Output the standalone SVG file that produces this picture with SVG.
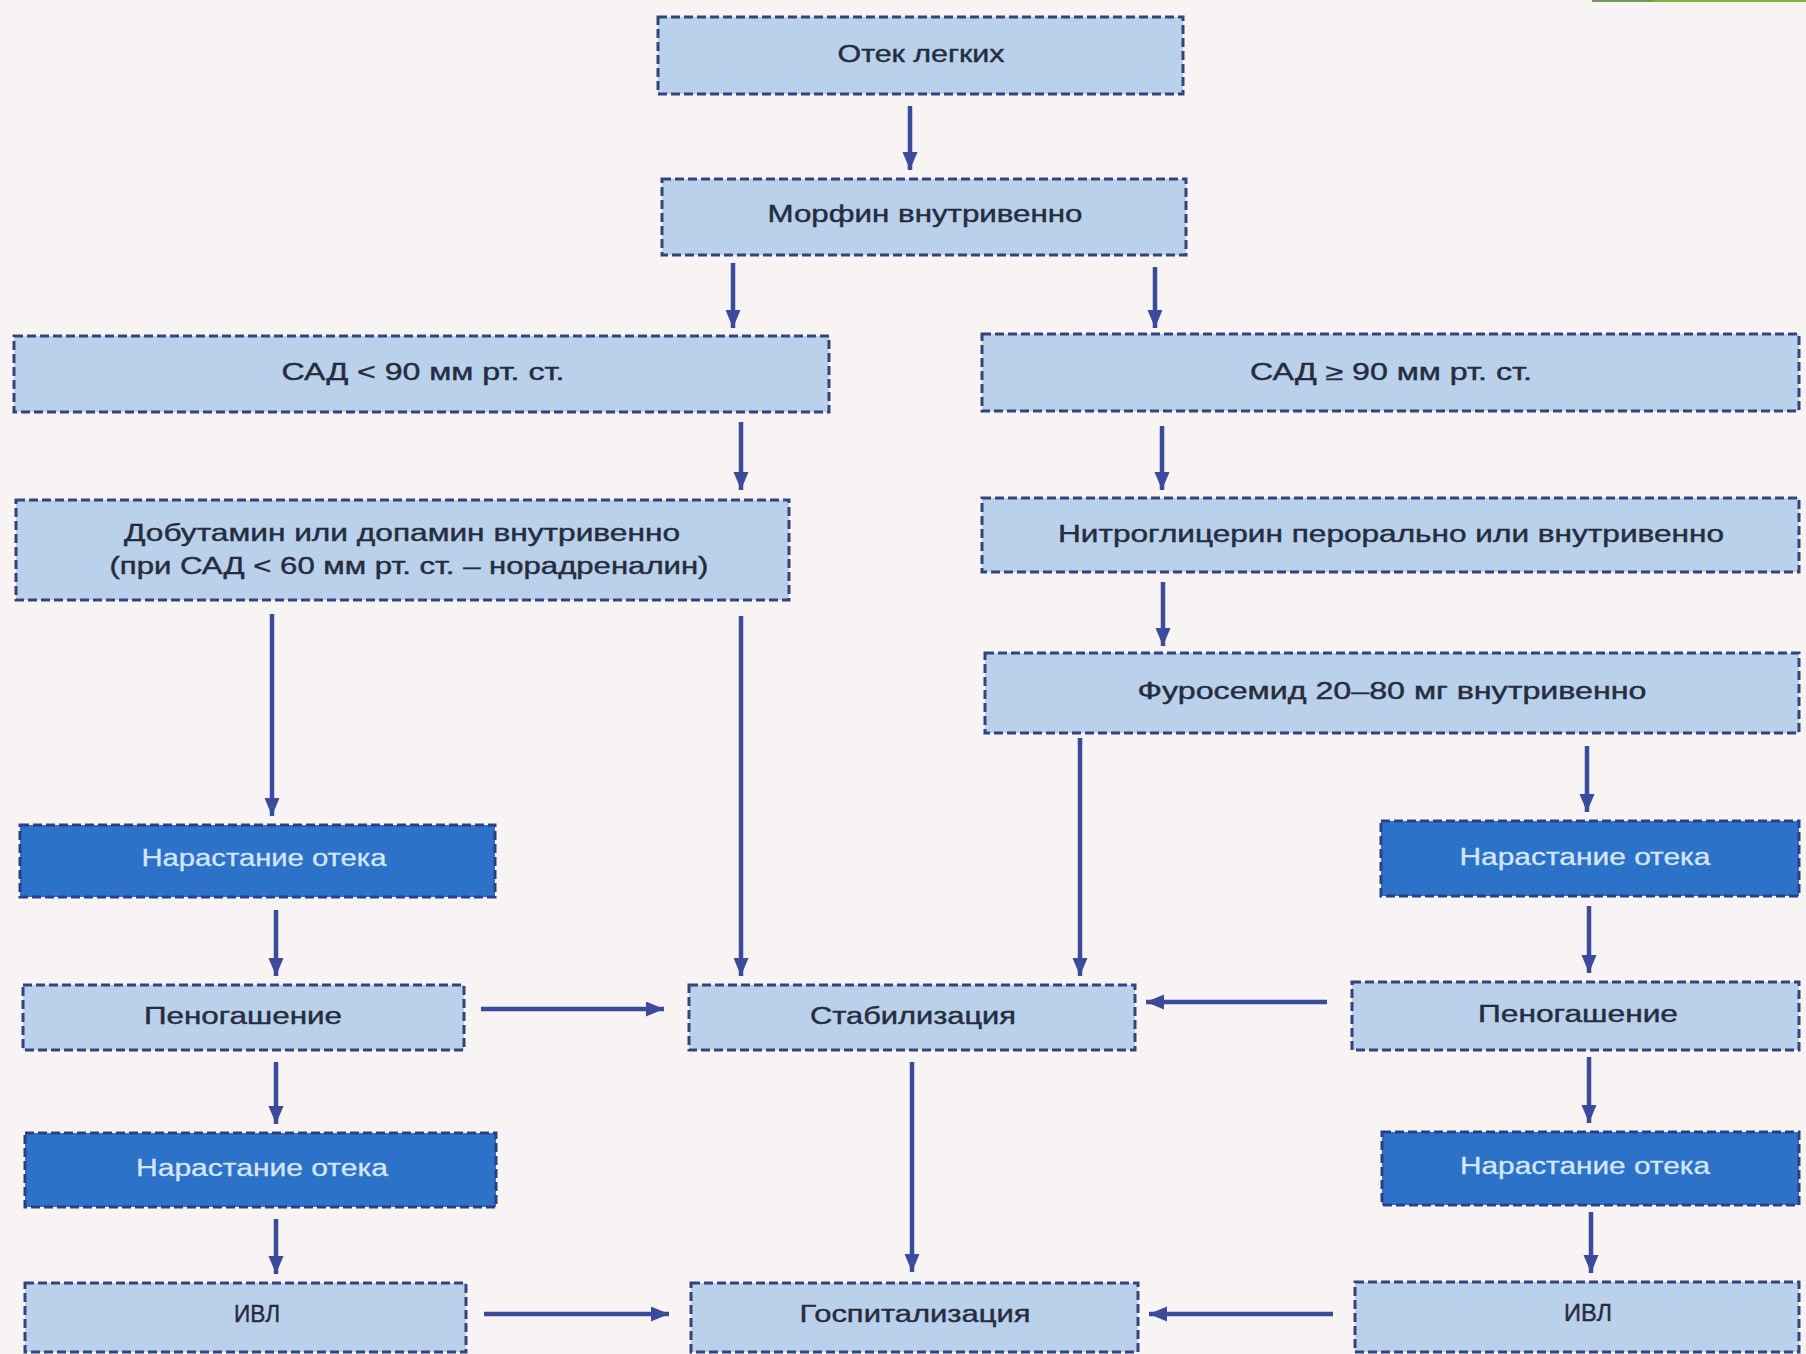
<svg xmlns="http://www.w3.org/2000/svg" width="1806" height="1354" viewBox="0 0 1806 1354">
  <defs>
    <marker id="ah" markerUnits="userSpaceOnUse" markerWidth="20" markerHeight="16" refX="18" refY="7.5" orient="auto">
      <path d="M0,0 L18,7.5 L0,15 z" fill="#3c4a9c"/>
    </marker>
    <style>
      .lt { fill: #b9d1eb; stroke: #34427e; stroke-width: 3; stroke-dasharray: 9 4; }
      .dk { fill: #2b72c8; stroke: #2c3f86; stroke-width: 3; stroke-dasharray: 9 4; }
      .t { font-family: "Liberation Sans", Arial, sans-serif; font-size: 23px; fill: #262c3e; stroke: #262c3e; stroke-width: 0.4; text-anchor: middle; }
      .tw { font-family: "Liberation Sans", Arial, sans-serif; font-size: 23px; fill: #d4e6f8; stroke: #d4e6f8; stroke-width: 0.3; text-anchor: middle; }
      .c { stroke: #3c4a9c; stroke-width: 4.5; fill: none; marker-end: url(#ah); }
    </style>
  </defs>
  <rect x="0" y="0" width="1806" height="1354" fill="#f7f4f3"/>
  <rect x="1592" y="0" width="61" height="2" fill="#739a5a"/>
  <rect x="1653" y="0" width="153" height="2" fill="#84b236"/>

  <g id="connectors">
    <line class="c" x1="910" y1="106" x2="910" y2="170"/>
    <line class="c" x1="733" y1="263" x2="733" y2="328"/>
    <line class="c" x1="1155" y1="267" x2="1155" y2="328"/>
    <line class="c" x1="741" y1="422" x2="741" y2="490"/>
    <line class="c" x1="1162" y1="426" x2="1162" y2="490"/>
    <line class="c" x1="1163" y1="582" x2="1163" y2="646"/>
    <line class="c" x1="272" y1="614" x2="272" y2="816"/>
    <line class="c" x1="741" y1="616" x2="741" y2="976"/>
    <line class="c" x1="1080" y1="738" x2="1080" y2="976"/>
    <line class="c" x1="1587" y1="746" x2="1587" y2="812"/>
    <line class="c" x1="276" y1="910" x2="276" y2="976"/>
    <line class="c" x1="481" y1="1009" x2="664" y2="1009"/>
    <line class="c" x1="1327" y1="1002" x2="1146" y2="1002"/>
    <line class="c" x1="276" y1="1062" x2="276" y2="1124"/>
    <line class="c" x1="276" y1="1219" x2="276" y2="1274"/>
    <line class="c" x1="484" y1="1314" x2="669" y2="1314"/>
    <line class="c" x1="912" y1="1062" x2="912" y2="1272"/>
    <line class="c" x1="1333" y1="1314" x2="1149" y2="1314"/>
    <line class="c" x1="1589" y1="906" x2="1589" y2="973"/>
    <line class="c" x1="1589" y1="1057" x2="1589" y2="1123"/>
    <line class="c" x1="1591" y1="1212" x2="1591" y2="1273"/>
  </g>

  <g id="n1"><rect class="lt" x="658" y="17" width="525" height="77"/><text class="t" x="921" y="62" textLength="167" lengthAdjust="spacingAndGlyphs">Отек легких</text></g>
  <g id="n2"><rect class="lt" x="662" y="179" width="524" height="76"/><text class="t" x="925" y="222" textLength="315" lengthAdjust="spacingAndGlyphs">Морфин внутривенно</text></g>
  <g id="n3"><rect class="lt" x="14" y="336" width="815" height="76"/><text class="t" x="423" y="380" textLength="283" lengthAdjust="spacingAndGlyphs">САД &lt; 90  мм рт. ст.</text></g>
  <g id="n4"><rect class="lt" x="982" y="334" width="817" height="77"/><text class="t" x="1391" y="380" textLength="282" lengthAdjust="spacingAndGlyphs">САД ≥ 90  мм рт. ст.</text></g>
  <g id="n5"><rect class="lt" x="16" y="500" width="773" height="100"/>
    <text class="t" x="402" y="541" textLength="556" lengthAdjust="spacingAndGlyphs">Добутамин или допамин внутривенно</text>
    <text class="t" x="409" y="574" textLength="599" lengthAdjust="spacingAndGlyphs">(при САД &lt; 60  мм рт. ст. – норадреналин)</text></g>
  <g id="n6"><rect class="lt" x="982" y="498" width="817" height="74"/><text class="t" x="1391" y="542" textLength="666" lengthAdjust="spacingAndGlyphs">Нитроглицерин перорально или внутривенно</text></g>
  <g id="n7"><rect class="lt" x="985" y="653" width="814" height="80"/><text class="t" x="1392" y="699" textLength="509" lengthAdjust="spacingAndGlyphs">Фуросемид 20–80 мг внутривенно</text></g>
  <g id="n8"><rect class="dk" x="20" y="825" width="475" height="72"/><text class="tw" x="264" y="866" textLength="245" lengthAdjust="spacingAndGlyphs">Нарастание отека</text></g>
  <g id="n9"><rect class="lt" x="23" y="985" width="441" height="65"/><text class="t" x="243" y="1024" textLength="198" lengthAdjust="spacingAndGlyphs">Пеногашение</text></g>
  <g id="n10"><rect class="dk" x="25" y="1133" width="471" height="74"/><text class="tw" x="262" y="1176" textLength="252" lengthAdjust="spacingAndGlyphs">Нарастание отека</text></g>
  <g id="n11"><rect class="lt" x="25" y="1283" width="441" height="69"/><text class="t" x="257" y="1322" textLength="46" lengthAdjust="spacingAndGlyphs">ИВЛ</text></g>
  <g id="n12"><rect class="lt" x="689" y="985" width="446" height="65"/><text class="t" x="913" y="1024" textLength="206" lengthAdjust="spacingAndGlyphs">Стабилизация</text></g>
  <g id="n13"><rect class="lt" x="691" y="1283" width="447" height="69"/><text class="t" x="915" y="1322" textLength="231" lengthAdjust="spacingAndGlyphs">Госпитализация</text></g>
  <g id="n14"><rect class="dk" x="1381" y="821" width="418" height="75"/><text class="tw" x="1585" y="865" textLength="251" lengthAdjust="spacingAndGlyphs">Нарастание отека</text></g>
  <g id="n15"><rect class="lt" x="1352" y="982" width="447" height="68"/><text class="t" x="1578" y="1022" textLength="200" lengthAdjust="spacingAndGlyphs">Пеногашение</text></g>
  <g id="n16"><rect class="dk" x="1382" y="1132" width="417" height="73"/><text class="tw" x="1585" y="1174" textLength="250" lengthAdjust="spacingAndGlyphs">Нарастание отека</text></g>
  <g id="n17"><rect class="lt" x="1355" y="1282" width="444" height="70"/><text class="t" x="1588" y="1321" textLength="48" lengthAdjust="spacingAndGlyphs">ИВЛ</text></g>
</svg>
